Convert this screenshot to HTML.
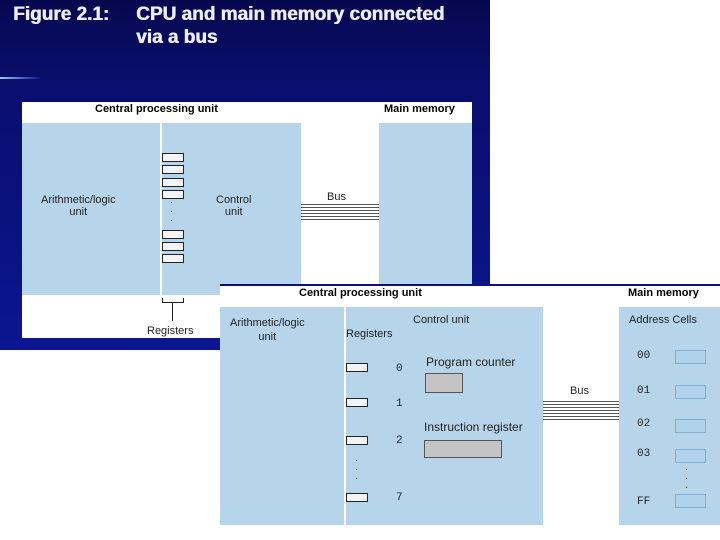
<!DOCTYPE html>
<html><head><style>
body{margin:0;width:720px;height:540px;background:#fff;position:relative;overflow:hidden;font-family:"Liberation Sans",sans-serif}
div{position:absolute;box-sizing:border-box}
.lb{background:#b7d5ea}
.t{font-size:11px;color:#222;white-space:nowrap}
.b{font-weight:bold;color:#000}
.r{background:#f4f4f4;border:1px solid #222}
.g{background:#c4c4c4;border:1px solid #555}
.c{background:#b0d2ea;border:1px solid #7fb0d0}
.bus{background:repeating-linear-gradient(#555 0 1px,#fff 1px 3px)}
.ti{font-size:19px;font-weight:bold;color:#eef;line-height:23px;text-shadow:0.6px 0 0 #eef}
</style></head><body>
<div style="left:0;top:0;width:490px;height:350px;background:linear-gradient(#06084e,#0a0e6e 25%,#0b1690)"></div>
<div style="left:0;top:77px;width:40px;height:2px;background:linear-gradient(90deg,#9cf,#0b1690)"></div>
<div class="t ti" style="left:13px;top:3px">Figure 2.1:</div>
<div class="t ti" style="left:136px;top:3px">CPU and main memory connected<br>via a bus</div>
<div style="left:22px;top:102px;width:450px;height:236px;background:#fff"></div>
<div class="t b" style="left:95px;top:103px">Central processing unit</div>
<div class="t b" style="left:384px;top:103px">Main memory</div>
<div class="lb" style="left:22px;top:123px;width:138px;height:172px"></div>
<div class="lb" style="left:162px;top:123px;width:139px;height:172px"></div>
<div class="lb" style="left:379px;top:123px;width:93px;height:162px"></div>
<div class="t" style="left:41px;top:194px;text-align:center;line-height:12px">Arithmetic/logic<br>unit</div>
<div class="t" style="left:216px;top:194px;text-align:center;line-height:12px">Control<br>unit</div>
<div class="t" style="left:327px;top:191px">Bus</div>
<div class="bus" style="left:301px;top:204px;width:78px;height:18px"></div>
<div class="r" style="left:162px;top:153px;width:22px;height:9px"></div>
<div class="r" style="left:162px;top:165px;width:22px;height:9px"></div>
<div class="r" style="left:162px;top:178px;width:22px;height:9px"></div>
<div class="r" style="left:162px;top:190px;width:22px;height:9px"></div>
<div class="t" style="left:170px;top:196px;line-height:9px">.<br>.<br>.</div>
<div class="r" style="left:162px;top:230px;width:22px;height:9px"></div>
<div class="r" style="left:162px;top:242px;width:22px;height:9px"></div>
<div class="r" style="left:162px;top:254px;width:22px;height:9px"></div>
<div style="left:162px;top:298px;width:22px;height:5px;border:1px solid #222;border-top:none"></div>
<div style="left:172px;top:303px;width:1px;height:18px;background:#222"></div>
<div class="t" style="left:147px;top:325px">Registers</div>

<div style="left:220px;top:284px;width:500px;height:256px;background:#fff;border-top:2px solid #0a1280"></div>
<div class="t b" style="left:299px;top:287px">Central processing unit</div>
<div class="t b" style="left:628px;top:287px">Main memory</div>
<div class="lb" style="left:220px;top:307px;width:124px;height:218px"></div>
<div class="lb" style="left:346px;top:307px;width:197px;height:218px"></div>
<div class="lb" style="left:619px;top:307px;width:101px;height:218px"></div>
<div class="t" style="left:230px;top:316px;text-align:center;line-height:14px">Arithmetic/logic<br>unit</div>
<div class="t" style="left:413px;top:314px">Control unit</div>
<div class="t" style="left:346px;top:328px">Registers</div>
<div class="t" style="left:629px;top:314px">Address Cells</div>
<div class="t" style="left:570px;top:385px">Bus</div>
<div class="bus" style="left:543px;top:401px;width:76px;height:19px"></div>
<div class="r" style="left:346px;top:363px;width:22px;height:9px"></div>
<div class="r" style="left:346px;top:398px;width:22px;height:9px"></div>
<div class="r" style="left:346px;top:436px;width:22px;height:9px"></div>
<div class="r" style="left:346px;top:493px;width:22px;height:9px"></div>
<div class="t" style="left:396px;top:363px;font-family:'Liberation Mono',monospace">0</div>
<div class="t" style="left:396px;top:398px;font-family:'Liberation Mono',monospace">1</div>
<div class="t" style="left:396px;top:435px;font-family:'Liberation Mono',monospace">2</div>
<div class="t" style="left:396px;top:492px;font-family:'Liberation Mono',monospace">7</div>
<div class="t" style="left:355px;top:454px;line-height:9px">.<br>.<br>.</div>
<div class="t" style="left:426px;top:355px;font-size:12px">Program counter</div>
<div class="g" style="left:425px;top:373px;width:38px;height:20px"></div>
<div class="t" style="left:424px;top:420px;font-size:12px">Instruction register</div>
<div class="g" style="left:424px;top:440px;width:78px;height:18px"></div>
<div class="t" style="left:637px;top:350px;font-family:'Liberation Mono',monospace">00</div>
<div class="t" style="left:637px;top:385px;font-family:'Liberation Mono',monospace">01</div>
<div class="t" style="left:637px;top:418px;font-family:'Liberation Mono',monospace">02</div>
<div class="t" style="left:637px;top:448px;font-family:'Liberation Mono',monospace">03</div>
<div class="t" style="left:637px;top:496px;font-family:'Liberation Mono',monospace">FF</div>
<div class="t" style="left:685px;top:463px;line-height:9px">.<br>.<br>.</div>
<div class="c" style="left:675px;top:350px;width:31px;height:14px"></div>
<div class="c" style="left:675px;top:385px;width:31px;height:14px"></div>
<div class="c" style="left:675px;top:419px;width:31px;height:14px"></div>
<div class="c" style="left:675px;top:449px;width:31px;height:14px"></div>
<div class="c" style="left:675px;top:494px;width:31px;height:14px"></div>
</body></html>
